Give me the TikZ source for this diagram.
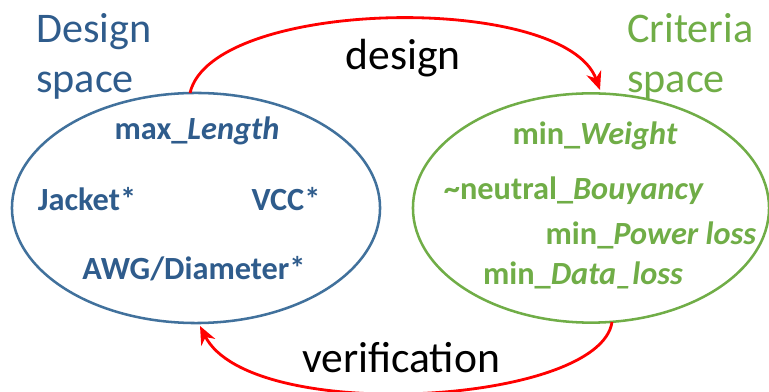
\documentclass[tikz,border=0pt]{standalone}
\usepackage{fontspec}
\setmainfont{Carlito}
\usetikzlibrary{shapes.geometric,arrows.meta}

\begin{document}
\begin{tikzpicture}[
  x=0.025cm, y=-0.025cm,
  space/.style={draw, ellipse, line width=1.8pt, inner sep=0pt},
  title/.style={font=\fontsize{30}{35.5}\selectfont, align=left, anchor=north west, inner sep=0pt},
  item/.style={font=\fontsize{23}{27}\selectfont\bfseries, anchor=base, inner sep=0pt},
  flow/.style={draw=red, line width=2pt, -{Stealth[length=13pt, width=11pt]}},
  verb/.style={font=\fontsize{31}{35}\selectfont, anchor=base, inner sep=0pt},
]
\definecolor{DSline}{HTML}{41719C}
\definecolor{DStext}{HTML}{2F5C8C}
\definecolor{CSgreen}{HTML}{70AD47}

\useasboundingbox (0,0) rectangle (769,392);

% ---- left: design space ----
\node[space, draw=DSline, minimum width=9.2cm, minimum height=5.75cm] (ds) at (196,208) {};
\node[title, text=DStext] (dslabel) at (36,13) {Design\\space};
\node[item, text=DStext] (len) at (197,140) {max\_\textit{Length}};
\node[item, text=DStext] (jacket) at (87,211) {Jacket*};
\node[item, text=DStext] (vcc) at (286,211) {VCC*};
\node[item, text=DStext] (awg) at (194,280) {AWG/Diameter*};

% ---- right: criteria space ----
\node[space, draw=CSgreen, minimum width=8.9cm, minimum height=5.73cm] (cs) at (591,208) {};
\node[title, text=CSgreen] (cslabel) at (627,13) {Criteria\\space};
\node[item, text=CSgreen] (weight) at (595,145) {min\_\textit{Weight}};
\node[item, text=CSgreen] (buoy) at (574,200) {\textasciitilde neutral\_\textit{Bouyancy}};
\node[item, text=CSgreen] (power) at (651,245) {min\_\textit{Power loss}};
\node[item, text=CSgreen] (data) at (583,285) {min\_\textit{Data\_loss}};

% ---- arrows between the spaces ----
\coordinate (dsout) at (190,93);
\coordinate (csin) at (600,90);
\coordinate (csout) at (612,322);
\coordinate (dsin) at (200,326);
\draw[flow] (dsout) .. controls (212,-2) and (565,-8) .. (csin);
\draw[flow] (csout) .. controls (600,405) and (250,425) .. (dsin);
\node[verb] (design) at (403,70) {design};
\node[verb] (verif) at (401,373) {verification};
\end{tikzpicture}
\end{document}
